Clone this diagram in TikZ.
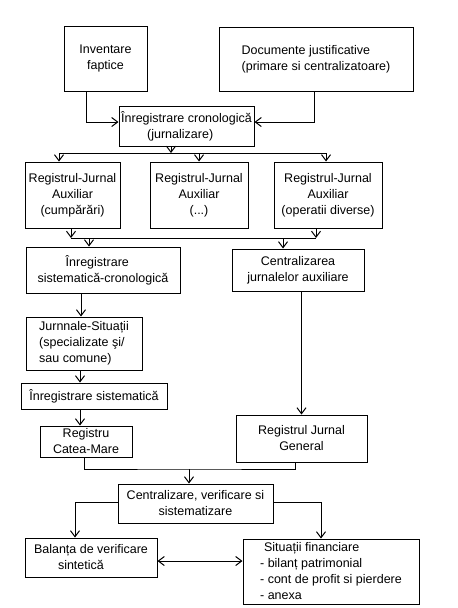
\documentclass[tikz,border=0pt]{standalone}
\usepackage{fontspec}
\setmainfont{Liberation Sans}
\usetikzlibrary{arrows.meta}
\begin{document}
\begin{tikzpicture}[x=1pt,y=-1pt,
  box/.style={draw, line width=1pt, rectangle, inner sep=0pt, align=left, font=\fontsize{12.5}{16}\selectfont},
  ln/.style={line width=1pt},
  arr/.style={line width=1pt, -{Straight Barb[length=6pt,width=9pt]}},
  darr/.style={line width=1pt, {Straight Barb[length=6pt,width=9pt]}-{Straight Barb[length=6pt,width=9pt]}}]
\fill[white] (0,0) rectangle (458,608);
% boxes
\node[box, align=center, minimum width=83pt, minimum height=65pt] (inv) at (105.5,58.5) {Inventare\\faptice};
\node[box, minimum width=194pt, minimum height=64pt] (doc) at (316,59) {Documente justificative\\(primare si centralizatoare)};
\node[box, minimum width=135pt, minimum height=40pt] (cron) at (186.5,126) {Înregistrare cronologică\\\hspace*{26pt}(jurnalizare)};
\node[box, align=center, minimum width=95pt, minimum height=66pt] (rja1) at (72.5,195) {Registrul-Jurnal\\Auxiliar\\(cumpărări)};
\node[box, align=center, minimum width=98pt, minimum height=66pt] (rja2) at (199,195) {Registrul-Jurnal\\Auxiliar\\(...)};
\node[box, align=center, minimum width=108pt, minimum height=66pt] (rja3) at (328,195) {Registrul-Jurnal\\Auxiliar\\(operatii diverse)};
\node[box, minimum width=154pt, minimum height=46pt] (isc) at (103,270) {\hspace*{28pt}Înregistrare\\sistematică-cronologică};
\node[box, align=center, minimum width=132pt, minimum height=42pt] (cja) at (298,270) {Centralizarea\\jurnalelor auxiliare};
\node[box, minimum width=116pt, minimum height=53pt] (js) at (84,343.5) {Jurnnale-Situații\\(specializate şi/\\sau comune)};
\node[box, align=center, minimum width=146pt, minimum height=26pt] (is) at (94,396) {Înregistrare sistematică};
\node[box, align=center, minimum width=92pt, minimum height=31pt] (rcm) at (86,441.5) {Registru\\Catea-Mare};
\node[box, align=center, minimum width=131pt, minimum height=47pt] (rjg) at (301.5,438.5) {Registrul Jurnal\\General};
\node[box, align=center, minimum width=155pt, minimum height=39pt] (cvs) at (195.5,503.5) {Centralizare, verificare si\\sistematizare};
\node[box, minimum width=132pt, minimum height=39pt] (bal) at (91,557.5) {Balanța de verificare\\\hspace*{24pt}sintetică};
\node[box, minimum width=176pt, minimum height=65pt] (sit) at (331,571.5) {\hspace*{4pt}Situații financiare\\- bilanț patrimonial\\- cont de profit si pierdere\\- anexa};
% connectors
\draw[arr] ([xshift=-19.5pt]inv.south) |- ([yshift=4pt]cron.west);
\draw[arr] ([xshift=-2pt]doc.south) |- ([yshift=4pt]cron.east);
\coordinate (b1) at (171,153);
\draw[arr] (cron.south -| b1) -- (b1);
\draw[arr] (b1) -| ([xshift=-13.5pt]rja1.north);
\draw[arr] (b1) -| (rja2.north);
\draw[arr] (b1) -| ([xshift=-2pt]rja3.north);
\coordinate (b2) at (200,238);
\draw[arr] ([xshift=-1.5pt]rja1.south) -- ([xshift=-1.5pt]rja1.south |- b2);
\draw[arr] ([xshift=-12pt]rja3.south) -- ([xshift=-12pt]rja3.south |- b2);
\draw[ln] ([xshift=-1.5pt]rja1.south |- b2) -- ([xshift=-12pt]rja3.south |- b2);
\draw[arr] ([xshift=-14pt]isc.north |- b2) -- ([xshift=-14pt]isc.north);
\draw[arr] ([xshift=-15pt]cja.north |- b2) -- ([xshift=-15pt]cja.north);
\draw[arr] ([xshift=-22pt]isc.south) -- ([xshift=-22pt]isc.south |- js.north);
\draw[arr] ([xshift=-4pt]js.south) -- ([xshift=-4pt]js.south |- is.north);
\draw[arr] ([xshift=-14pt]is.south) -- ([xshift=-14pt]is.south |- rcm.north);
\draw[arr] (rjg.north |- cja.south) -- (rjg.north);
\coordinate (b3) at (189,469);
\draw[ln] ([xshift=-2pt]rcm.south) |- (b3) -| ([xshift=-6.5pt]rjg.south);
\draw[arr] (b3) -- (b3 |- cvs.north);
\draw[arr] ([yshift=1.5pt]cvs.west) -| ([xshift=-16pt]bal.north);
\draw[arr] ([yshift=1.5pt]cvs.east) -| ([xshift=-10pt]sit.north);
\draw[darr] ([yshift=-3.5pt]bal.east) -- ([yshift=-3.5pt]bal.east -| sit.west);
\end{tikzpicture}
\end{document}
